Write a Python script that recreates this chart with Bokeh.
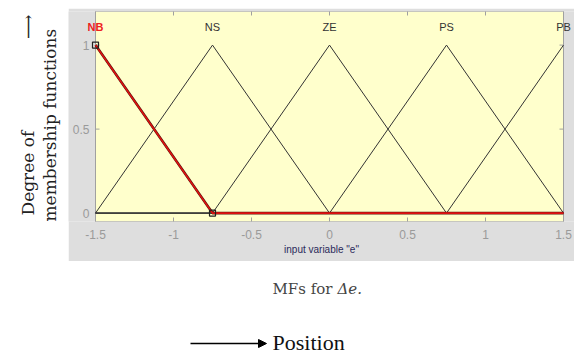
import numpy as np
from bokeh.plotting import figure
from bokeh.models import Range1d, FixedTicker, Arrow, NormalHead, Spacer, Title
from bokeh.layouts import column, row
from bokeh.embed import file_html
from bokeh.resources import INLINE
from bokeh.core.properties import value

# ---- data ----
mf_names = ["NB", "NS", "ZE", "PS", "PB"]
mf_a = [-2.25, -1.5, -0.75, 0.0, 0.75]
mf_b = [-1.5, -0.75, 0.0, 0.75, 1.5]
mf_c = [-0.75, 0.0, 0.75, 1.5, 2.25]
selected = "NB"
x_min, x_max = -1.5, 1.5
y_min, y_max = -0.05, 1.2
x_ticks = [-1.5, -1.0, -0.5, 0.0, 0.5, 1.0, 1.5]
y_ticks = [0.0, 0.5, 1.0]
label_y = 1.105
x_label = 'input variable "e"'
y_label_1 = "Degree of"
y_label_2 = "membership functions"
caption = "MFs for"
caption_sym = "\u0394e."
footer = "Position"

def trimf(x, a, b, c):
    x = np.asarray(x, dtype=float)
    left = (x - a) / (b - a) if b != a else np.ones_like(x)
    right = (c - x) / (c - b) if c != b else np.ones_like(x)
    return np.clip(np.minimum(left, right), 0, 1)

FONT_NAME = "Liberation Sans"
FONT = value(FONT_NAME)
GRAY_PANEL = "#dedede"
AX_GRAY = "#a0a0a0"

# layout of the axes box inside the grey panel (pixels)
PANEL_W, PANEL_H = 506, 253
PAD_L, PAD_R = 27, 11
px_per_unit = (PANEL_W - PAD_L - PAD_R) / (x_max - x_min)
xr = Range1d(x_min - PAD_L / px_per_unit, x_max + PAD_R / px_per_unit)
tick_dx = 4 / px_per_unit

# ---- main plot (frame spans the whole panel width; the yellow box is a glyph) ----
p = figure(width=PANEL_W, height=PANEL_H, x_range=xr, y_range=Range1d(y_min, y_max),
           output_backend="svg", toolbar_location=None,
           min_border_left=0, min_border_right=0, min_border_top=3, min_border_bottom=40,
           background_fill_color=GRAY_PANEL, border_fill_color=GRAY_PANEL,
           outline_line_color=None, y_axis_type=None)
p.grid.visible = False

p.quad(left=[x_min], right=[x_max], bottom=[y_min], top=[y_max],
       fill_color="#ffffcc", line_color=AX_GRAY, line_width=1)

ax = p.xaxis[0]
ax.ticker = FixedTicker(ticks=x_ticks)
ax.major_label_overrides = {t: f"{t:g}" for t in x_ticks}
ax.major_tick_in = 4
ax.major_tick_out = 0
ax.minor_tick_line_color = None
ax.axis_line_color = None
ax.major_tick_line_color = AX_GRAY
ax.major_label_text_color = "#9a9a9a"
ax.major_label_text_font = FONT_NAME
ax.major_label_text_font_size = "12px"
ax.major_label_standoff = 8
ax.axis_label = x_label
ax.axis_label_text_font = FONT_NAME
ax.axis_label_text_font_size = "10px"
ax.axis_label_text_font_style = "normal"
ax.axis_label_text_color = "#2a2a5a"
ax.axis_label_standoff = 2

# y tick labels and tick marks on the frame edges
p.text(x=[x_min] * len(y_ticks), y=y_ticks, text=[f"{t:g}" for t in y_ticks],
       x_offset=-6, text_align="right", text_baseline="middle",
       text_font=FONT, text_font_size="12px", text_color="#9a9a9a")
p.segment(x0=[x_min] * len(y_ticks), y0=y_ticks, x1=[x_min + tick_dx] * len(y_ticks),
          y1=y_ticks, line_color=AX_GRAY, line_width=1)
p.segment(x0=[x_max] * len(y_ticks), y0=y_ticks, x1=[x_max - tick_dx] * len(y_ticks),
          y1=y_ticks, line_color=AX_GRAY, line_width=1)
p.scatter(x_ticks, [y_max] * len(x_ticks), marker="dash", angle=np.pi / 2, size=8,
          line_color=AX_GRAY, line_width=1)

# membership function curves
def mf_points(a, b, c):
    pts = sorted(set([x_min, x_max] + [v for v in (a, b, c) if x_min <= v <= x_max]))
    return pts, trimf(pts, a, b, c)

for name, a, b, c in zip(mf_names, mf_a, mf_b, mf_c):
    if name != selected:
        xs, ys = mf_points(a, b, c)
        p.line(xs, ys, line_color="#333333", line_width=1)
for name, a, b, c in zip(mf_names, mf_a, mf_b, mf_c):
    if name == selected:
        xs, ys = mf_points(a, b, c)
        p.line(xs, ys, line_color="#5a1a10", line_width=2.6)
        p.line(xs, ys, line_color="#e01010", line_width=1.6)
        vx = [v for v in (a, b, c) if x_min <= v <= x_max]
        p.scatter(vx, trimf(vx, a, b, c), marker="square", size=6,
                  line_color="#202020", fill_color=None, line_width=1.2)

for name, b in zip(mf_names, mf_b):
    sel = name == selected
    p.text(x=[b], y=[label_y], text=[name],
           text_color="#ee2020" if sel else "#333333",
           text_font_style="bold" if sel else "normal",
           text_align="center", text_baseline="middle",
           text_font=FONT, text_font_size="11px")

# ---- left label strip: vertical texts as left-side titles ----
fl = figure(width=68, height=253, x_axis_type=None, y_axis_type=None,
            output_backend="svg", toolbar_location=None,
            min_border_left=59, min_border_right=0, min_border_top=0, min_border_bottom=13,
            outline_line_color=None, border_fill_color="white", background_fill_color="white")
fl.grid.visible = False
fl.add_layout(Title(text=y_label_2, align="left", standoff=0, offset=0,
                    text_font="DejaVu Serif", text_font_size="17px",
                    text_font_style="normal", text_color="#222222"), "left")
fl.add_layout(Title(text=y_label_1 + "\u00a0" * 17 + "\u27f6", align="left", standoff=0,
                    offset=6, text_font="DejaVu Serif", text_font_size="17px",
                    text_font_style="normal", text_color="#222222"), "left")

# ---- bottom caption strip ----
fb = figure(width=574, height=95, x_range=Range1d(0, 574), y_range=Range1d(356, 261),
            x_axis_type=None, y_axis_type=None,
            output_backend="svg", toolbar_location=None, min_border=0,
            outline_line_color=None, border_fill_color="white", background_fill_color="white")
fb.grid.visible = False
fb.text(x=[272], y=[288], text=[caption], text_align="left", text_baseline="middle",
        text_font=value("DejaVu Serif"), text_font_size="15px", text_color="#444444")
fb.text(x=[337], y=[288], text=[caption_sym], text_align="left", text_baseline="middle",
        text_font=value("DejaVu Serif"), text_font_size="15px", text_font_style="italic",
        text_color="#444444")
fb.text(x=[272], y=[342], text=[footer], text_align="left", text_baseline="middle",
        text_font=value("Liberation Serif"), text_font_size="22px", text_color="#111111")
fb.add_layout(Arrow(end=NormalHead(size=8, fill_color="black", line_color="black"),
                    x_start=190, y_start=343, x_end=266, y_end=343, line_width=1.5))

layout = column(Spacer(width=574, height=8), row(fl, p, spacing=0), fb, spacing=0)
open("out.html", "w").write(file_html(layout, INLINE))
